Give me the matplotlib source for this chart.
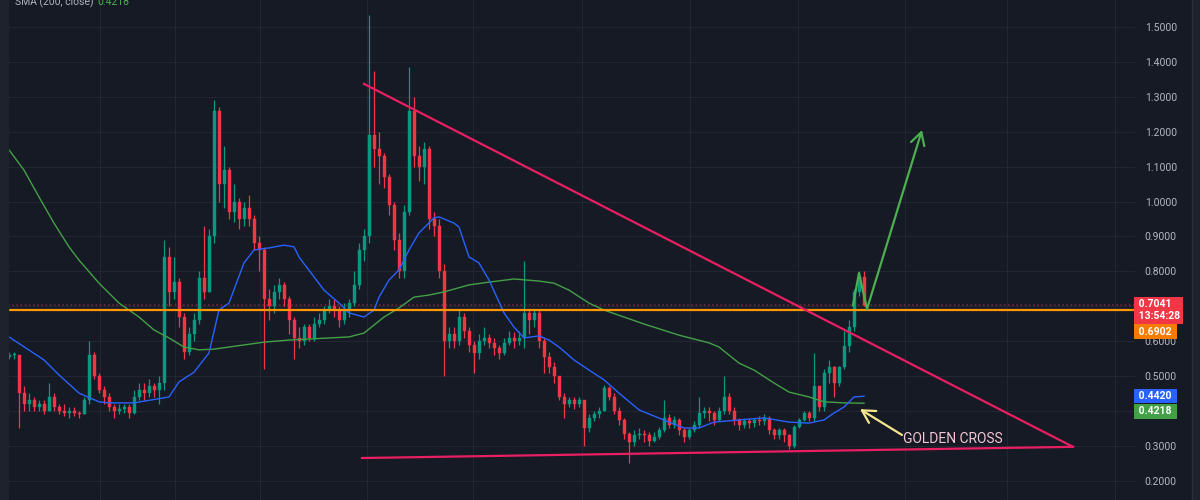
import numpy as np
import matplotlib
matplotlib.use('Agg')
import matplotlib.pyplot as plt

plt.rcParams['font.family'] = ['Roboto', 'DejaVu Sans']

# candles (open = previous close)
first_open = 0.555
close = [0.56, 0.56, 0.45, 0.42, 0.43, 0.41, 0.42, 0.40, 0.44, 0.41,
         0.40, 0.395, 0.40, 0.395, 0.39, 0.43, 0.56, 0.50, 0.46, 0.44,
         0.41, 0.40, 0.405, 0.41, 0.395, 0.44, 0.46, 0.45, 0.47, 0.46,
         0.48, 0.84, 0.74, 0.77, 0.67, 0.57, 0.62, 0.66, 0.78, 0.74,
         0.90, 1.26, 1.05, 1.09, 0.97, 1.00, 0.95, 0.98, 0.95, 0.88,
         0.86, 0.72, 0.70, 0.74, 0.76, 0.72, 0.66, 0.61, 0.60, 0.64,
         0.61, 0.65, 0.66, 0.69, 0.70, 0.69, 0.66, 0.69, 0.71, 0.76,
         0.86, 0.90, 1.19, 1.15, 1.13, 1.07, 0.99, 0.89, 0.80, 0.97,
         1.26, 1.13, 1.10, 1.15, 0.95, 0.93, 0.80, 0.60, 0.62, 0.60,
         0.67, 0.63, 0.59, 0.565, 0.60, 0.61, 0.595, 0.58, 0.565, 0.595,
         0.61, 0.60, 0.61, 0.68, 0.66, 0.68, 0.60, 0.555, 0.525, 0.50,
         0.44, 0.42, 0.43, 0.42, 0.43, 0.35, 0.38, 0.39, 0.40, 0.465,
         0.44, 0.40, 0.375, 0.335, 0.31, 0.33, 0.335, 0.33, 0.315, 0.325,
         0.345, 0.38, 0.36, 0.375, 0.345, 0.325, 0.345, 0.36, 0.395, 0.40,
         0.395, 0.375, 0.40, 0.44, 0.40, 0.375, 0.36, 0.37, 0.365, 0.375,
         0.37, 0.38, 0.345, 0.33, 0.345, 0.33, 0.30, 0.355, 0.375, 0.395,
         0.38, 0.47, 0.41, 0.51, 0.525, 0.48, 0.525, 0.585, 0.64, 0.74,
         0.785, 0.7041]
high = [0.57, 0.57, 0.56, 0.47, 0.45, 0.44, 0.43, 0.43, 0.48, 0.45,
        0.42, 0.42, 0.41, 0.41, 0.40, 0.44, 0.60, 0.57, 0.51, 0.47,
        0.45, 0.42, 0.42, 0.42, 0.42, 0.46, 0.48, 0.48, 0.49, 0.48,
        0.50, 0.89, 0.87, 0.84, 0.78, 0.68, 0.64, 0.68, 0.80, 0.93,
        0.92, 1.29, 1.27, 1.16, 1.10, 1.05, 1.01, 1.00, 1.02, 0.96,
        0.90, 0.87, 0.75, 0.76, 0.78, 0.77, 0.73, 0.67, 0.64, 0.65,
        0.65, 0.67, 0.68, 0.70, 0.72, 0.72, 0.70, 0.71, 0.72, 0.80,
        0.88, 0.92, 1.535, 1.375, 1.20, 1.14, 1.08, 1.00, 0.91, 0.99,
        1.385, 1.30, 1.16, 1.17, 1.16, 0.97, 0.95, 0.82, 0.64, 0.64,
        0.69, 0.68, 0.64, 0.60, 0.62, 0.64, 0.62, 0.61, 0.59, 0.61,
        0.63, 0.625, 0.63, 0.83, 0.69, 0.69, 0.69, 0.61, 0.57, 0.54,
        0.50, 0.45, 0.44, 0.44, 0.44, 0.43, 0.39, 0.40, 0.41, 0.475,
        0.47, 0.45, 0.41, 0.38, 0.34, 0.345, 0.35, 0.345, 0.34, 0.34,
        0.355, 0.43, 0.39, 0.385, 0.38, 0.35, 0.35, 0.37, 0.44, 0.41,
        0.41, 0.40, 0.41, 0.50, 0.45, 0.41, 0.38, 0.38, 0.38, 0.38,
        0.385, 0.39, 0.385, 0.35, 0.35, 0.35, 0.335, 0.36, 0.38, 0.40,
        0.40, 0.565, 0.47, 0.52, 0.545, 0.53, 0.53, 0.63, 0.66, 0.75,
        0.80, 0.80]
low = [0.55, 0.55, 0.35, 0.40, 0.40, 0.40, 0.40, 0.39, 0.40, 0.40,
       0.39, 0.385, 0.38, 0.385, 0.38, 0.39, 0.42, 0.49, 0.45, 0.42,
       0.40, 0.38, 0.39, 0.395, 0.38, 0.39, 0.43, 0.43, 0.44, 0.44,
       0.42, 0.46, 0.70, 0.72, 0.64, 0.55, 0.56, 0.60, 0.65, 0.72,
       0.74, 0.88, 1.00, 0.98, 0.95, 0.94, 0.92, 0.93, 0.93, 0.86,
       0.80, 0.52, 0.66, 0.68, 0.72, 0.70, 0.62, 0.55, 0.58, 0.59,
       0.60, 0.60, 0.64, 0.65, 0.68, 0.67, 0.64, 0.65, 0.67, 0.70,
       0.75, 0.83, 0.88, 1.10, 1.05, 1.04, 0.96, 0.86, 0.78, 0.78,
       0.96, 1.10, 1.06, 1.05, 0.92, 0.90, 0.78, 0.50, 0.58, 0.58,
       0.59, 0.61, 0.57, 0.51, 0.55, 0.59, 0.58, 0.56, 0.55, 0.56,
       0.59, 0.58, 0.59, 0.58, 0.62, 0.64, 0.58, 0.51, 0.51, 0.48,
       0.43, 0.38, 0.41, 0.405, 0.41, 0.30, 0.34, 0.37, 0.38, 0.40,
       0.43, 0.39, 0.36, 0.32, 0.25, 0.30, 0.32, 0.31, 0.30, 0.31,
       0.32, 0.34, 0.35, 0.35, 0.33, 0.31, 0.32, 0.34, 0.35, 0.38,
       0.37, 0.36, 0.37, 0.39, 0.39, 0.36, 0.345, 0.35, 0.35, 0.355,
       0.36, 0.36, 0.335, 0.32, 0.32, 0.31, 0.29, 0.295, 0.35, 0.37,
       0.37, 0.37, 0.40, 0.40, 0.48, 0.44, 0.47, 0.52, 0.57, 0.63,
       0.73, 0.70]

# moving averages, sampled at bar numbers
sma50_bar = [0, 7, 10, 14, 18, 20, 25, 32, 34, 37, 40, 42, 44, 47, 49, 52, 55, 57,
             58, 61, 63, 66, 68, 71, 73, 74, 76, 78, 80, 82, 85, 86, 89, 90, 92, 94,
             96, 99, 101, 103, 106, 108, 110, 113, 116, 119, 122, 126, 127, 132, 135,
             138, 141, 146, 151, 156, 160, 163, 165, 167, 169, 171]
sma50 = [0.612, 0.546, 0.503, 0.451, 0.426, 0.423, 0.423, 0.440, 0.483, 0.511,
         0.566, 0.689, 0.709, 0.824, 0.861, 0.867, 0.875, 0.870, 0.841, 0.784,
         0.746, 0.709, 0.681, 0.669, 0.689, 0.726, 0.775, 0.804, 0.861, 0.910,
         0.953, 0.956, 0.938, 0.927, 0.841, 0.824, 0.775, 0.681, 0.640, 0.609,
         0.615, 0.603, 0.583, 0.546, 0.517, 0.489, 0.451, 0.403, 0.397, 0.368,
         0.351, 0.351, 0.368, 0.374, 0.380, 0.368, 0.365, 0.374, 0.394, 0.411,
         0.440, 0.442]
sma200_bar = [0, 3, 6, 9, 12, 14, 18, 22, 26, 29, 32, 35, 38, 41, 47, 51, 56, 64,
              68, 71, 73, 75, 78, 81, 84, 87, 92, 96, 101, 106, 109, 112, 116, 119,
              123, 127, 134, 140, 142, 146, 149, 153, 156, 160, 163, 167, 171]
sma200 = [1.148, 1.090, 1.013, 0.938, 0.870, 0.832, 0.766, 0.709, 0.669, 0.632,
          0.609, 0.583, 0.575, 0.577, 0.589, 0.597, 0.603, 0.609, 0.612, 0.623,
          0.646, 0.669, 0.695, 0.726, 0.732, 0.741, 0.761, 0.769, 0.778, 0.772,
          0.766, 0.746, 0.709, 0.689, 0.669, 0.649, 0.617, 0.595, 0.583, 0.537,
          0.517, 0.480, 0.454, 0.440, 0.426, 0.423, 0.422]

last_price = 0.7041
countdown = '13:54:28'
support = 0.6902
sma50_last = 0.4420
sma200_last = 0.4218

# drawings (bar, price)
wedge_top_bar, wedge_top_price = [71.0, 212.8], [1.337, 0.297]
wedge_low_bar, wedge_low_price = [70.6, 212.8], [0.265, 0.297]
path_bar = [168.8, 170.0, 171.6]
path_price = [0.703, 0.795, 0.692]
target_bar, target_price = 182.6, 1.205
cross_bar, cross_price = 170.2, 0.405
note_bar, note_price = 178.6, 0.331
note_text = 'GOLDEN CROSS'

bg = '#161a25'
up_col = '#089981'
down_col = '#f23645'

fig = plt.figure(figsize=(12, 5), dpi=100)
fig.set_facecolor(bg)
ax = fig.add_axes([8 / 1200, 0, 1127 / 1200, 1])
ax.set_facecolor(bg)

# side panels
fig.patches.append(plt.Rectangle((0, 0), 8 / 1200, 1, transform=fig.transFigure,
                                 color='#1e222d', zorder=0))
fig.patches.append(plt.Rectangle((1192 / 1200, 0), 8 / 1200, 1, transform=fig.transFigure,
                                 color='#1e222d', zorder=0))
fig.lines.append(plt.Line2D([1192 / 1200] * 2, [0, 1], transform=fig.transFigure,
                            color='#2a2e39', lw=1))

n = len(close)
x = np.arange(n)
o = np.array([first_open] + close[:-1])
c = np.array(close)
h = np.maximum(np.array(high), np.maximum(o, c))
l = np.minimum(np.array(low), np.minimum(o, c))
cols = np.where(c >= o, up_col, down_col)

ax.vlines(x, l, h, colors=cols, lw=0.9, zorder=3)
ax.bar(x, np.maximum(np.abs(c - o), 0.004), bottom=np.minimum(o, c), width=0.6,
       color=cols, edgecolor=cols, lw=0.3, zorder=4)

ax.plot(sma200_bar, sma200, color='#43a047', lw=1.0, zorder=5)
ax.plot(sma50_bar, sma50, color='#2962ff', lw=1.0, zorder=5)

ax.axhline(last_price, color='#6e2a3a', lw=1.2, ls=(0, (1, 1.5)), zorder=2)
ax.axhline(support, color='#ff9800', lw=1.6, zorder=6)

ax.plot(wedge_top_bar, wedge_top_price, color='#e91e63', lw=1.6, zorder=6)
ax.plot(wedge_low_bar, wedge_low_price, color='#e91e63', lw=1.6, zorder=6)

ax.plot(path_bar, path_price, color='#4caf50', lw=1.6, zorder=7)
ax.annotate('', xy=(target_bar, target_price), xytext=(path_bar[-1], path_price[-1]),
            arrowprops=dict(arrowstyle='->,head_length=0.9,head_width=0.5',
                            color='#4caf50', lw=1.6, shrinkA=0, shrinkB=0), zorder=7)
ax.annotate('', xy=(cross_bar, cross_price), xytext=(note_bar, note_price),
            arrowprops=dict(arrowstyle='->,head_length=0.9,head_width=0.5',
                            color='#f5e58c', lw=1.6, shrinkA=0, shrinkB=0), zorder=7)
ax.text(note_bar + 0.1, note_price - 0.012, note_text, color='#f4c6d3', fontsize=10,
        ha='left', va='center', zorder=8)

# grid
ticks = np.round(np.arange(0.2, 1.51, 0.1), 1)
for t in ticks:
    ax.axhline(t, color='#232632', lw=0.8, zorder=1)
for gx in [18.2, 33.2, 50.2, 71.6, 92.8, 114.6, 136.2, 157.8, 179.2, 199.6, 221.2]:
    ax.axvline(gx, color='#232632', lw=0.8, zorder=1)

ax.set_xlim(-0.2, 225.2)
ax.set_ylim(0.1447, 1.5774)
ax.set_xticks([])
ax.yaxis.tick_right()
ax.set_yticks(ticks)
# 0.7 and 0.4 sit under the price boxes
ax.set_yticklabels(['' if t in (0.4, 0.7) else '{:.4f}'.format(t) for t in ticks])
ax.tick_params(axis='y', length=0, pad=7, labelsize=7.5, labelcolor='#b2b5be')
for s in ax.spines.values():
    s.set_visible(False)

# price scale labels
yt = ax.get_yaxis_transform()
box_x = 1 + 1.5 / 1127
ax.text(box_x, 0.6877, ' {:.4f}\n {}'.format(last_price, countdown), transform=yt,
        color='white', fontsize=7.5, fontweight='bold', ha='left', va='center',
        linespacing=1.25, zorder=10, clip_on=False,
        bbox=dict(boxstyle='square,pad=0.25', fc='#f23645', ec='none'))
ax.text(box_x, 0.6275, ' {:.4f} '.format(support), transform=yt, color='white',
        fontsize=7.5, fontweight='bold', ha='left', va='center', zorder=10, clip_on=False,
        bbox=dict(boxstyle='square,pad=0.2', fc='#f57c00', ec='none'))
ax.text(box_x, 0.4427, ' {:.4f} '.format(sma50_last), transform=yt, color='white',
        fontsize=7.5, fontweight='bold', ha='left', va='center', zorder=10, clip_on=False,
        bbox=dict(boxstyle='square,pad=0.2', fc='#2962ff', ec='none'))
ax.text(box_x, 0.3983, ' {:.4f} '.format(sma200_last), transform=yt, color='white',
        fontsize=7.5, fontweight='bold', ha='left', va='center', zorder=10, clip_on=False,
        bbox=dict(boxstyle='square,pad=0.2', fc='#43a047', ec='none'))

# legend line, cut by the top edge
fig.text(15 / 1200, 0.996, 'SMA (200, close)', color='#b2b5be', fontsize=7.5, va='center')
fig.text(97 / 1200, 0.996, '{:.4f}'.format(sma200_last), color='#4caf50', fontsize=7.5,
         va='center')

fig.savefig('out.png', dpi=100, facecolor=bg)
